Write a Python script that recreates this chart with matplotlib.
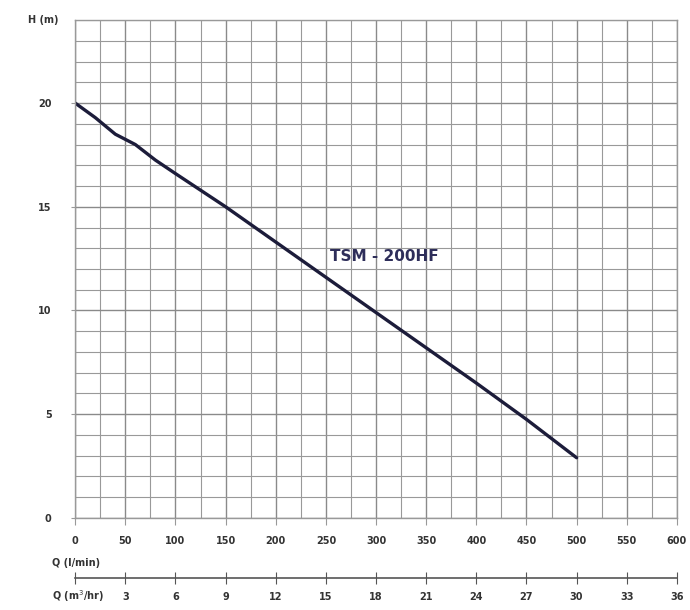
import matplotlib
import numpy as np

matplotlib.use("Agg")
import matplotlib.pyplot as plt  # noqa: E402

# pump curve TSM - 200HF
flow_lpm = [0, 20, 40, 60, 80, 100, 125, 150, 200, 250, 300, 350, 400, 450, 500]
head_m = [20.0, 19.3, 18.5, 18.0, 17.25, 16.6, 15.8, 15.0, 13.3, 11.6, 9.9, 8.2, 6.5, 4.75, 2.9]

x_ticks = list(range(0, 601, 50))
y_ticks = [0, 5, 10, 15, 20]
m3h_ticks = list(range(0, 37, 3))
m3h_labels = [""] + [str(v) for v in m3h_ticks[1:]]
curve_label = "TSM - 200HF"

TEXT = "#333333"
GRID = "#999999"

fig = plt.figure(figsize=(6.9, 6.1), dpi=100)
ax = fig.add_axes([0.109, 0.151, 0.872, 0.816])
ax.set_xlim(0, 600)
ax.set_ylim(0, 24)
ax.set_xticks(x_ticks)
ax.set_xticks(np.arange(0, 601, 25), minor=True)
ax.set_yticks(y_ticks)
ax.set_yticks(np.arange(0, 25, 1), minor=True)
ax.grid(which="major", color="#8a8a8a", linewidth=1.0)
ax.grid(which="minor", color=GRID, linewidth=0.8)
ax.set_axisbelow(True)
for spine in ax.spines.values():
    spine.set_color(GRID)
    spine.set_linewidth(1.0)
ax.tick_params(which="both", color=GRID, labelsize=7, labelcolor=TEXT)
ax.tick_params(axis="x", which="major", length=5, pad=8)
ax.tick_params(axis="x", which="minor", length=0)
ax.tick_params(axis="y", which="major", length=3, pad=14)
ax.tick_params(axis="y", which="minor", length=0)
for lab in ax.get_xticklabels() + ax.get_yticklabels():
    lab.set_fontweight("bold")

ax.plot(flow_lpm, head_m, color="#1c1c3a", linewidth=2.4, solid_capstyle="round")
ax.text(254, 12.6, curve_label, color="#2e2e5a", fontsize=11, fontweight="bold",
        ha="left", va="center")

fig.text(0.04, 0.967, "H (m)", fontsize=7, fontweight="bold", color=TEXT, va="center")
fig.text(0.075, 0.077, "Q (l/min)", fontsize=7, fontweight="bold", color=TEXT, va="center")

# second flow scale in m3/hr
ax2 = fig.add_axes([0.109, 0.052, 0.872, 0.0001])
ax2.set_xlim(0, 36)
ax2.set_ylim(0, 1)
ax2.set_yticks([])
for name in ("top", "left", "right"):
    ax2.spines[name].set_visible(False)
ax2.spines["bottom"].set_color("#555555")
ax2.spines["bottom"].set_linewidth(1.2)
ax2.set_xticks(m3h_ticks)
ax2.set_xticklabels(m3h_labels)
ax2.tick_params(axis="x", direction="inout", length=8, color="#555555", labelsize=7,
                labelcolor=TEXT, pad=6)
for lab in ax2.get_xticklabels():
    lab.set_fontweight("bold")
fig.text(0.075, 0.022, "Q (m$^3$/hr)", fontsize=7, fontweight="bold", color=TEXT, va="center")

fig.savefig("out.png", dpi=100, facecolor="white")
